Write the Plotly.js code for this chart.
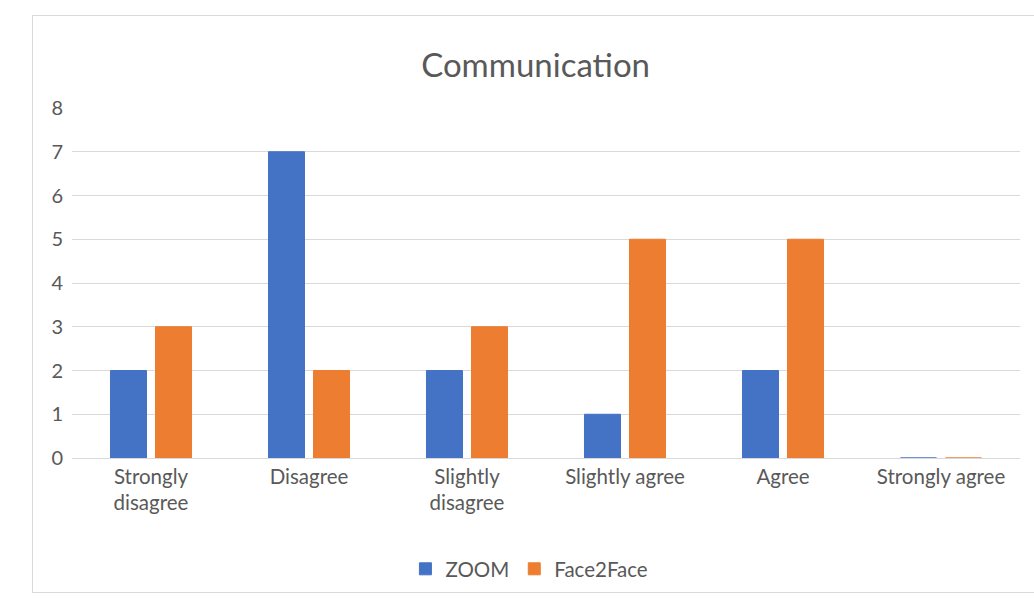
<!DOCTYPE html>
<html>
<head>
<meta charset="utf-8">
<script src="https://cdn.plot.ly/plotly-3.0.1.min.js"></script>
<style>
  html, body { margin: 0; padding: 0; background: #fff; }
  #wrap { position: relative; width: 1034px; height: 611px; }
  #chart { width: 1034px; height: 611px; }
  #frame { position: absolute; left: 32px; top: 15px; width: 1020px; height: 576px;
           border: 1px solid #d9d9d9; pointer-events: none; }
</style>
</head>
<body>
<div id="wrap">
  <div id="chart"></div>
  <div id="frame"></div>
</div>
<script>
const categories = ["Strongly<br>disagree", "Disagree", "Slightly<br>disagree", "Slightly agree", "Agree", "Strongly agree"];
const zoomValues = [2, 7, 2, 1, 2, 0];
const face2faceValues = [3, 2, 3, 5, 5, 0];
const seriesNames = ["ZOOM", "Face2Face"];
const yTicks = [0, 1, 2, 3, 4, 5, 6, 7, 8];

const FONT = "Lato, 'Open Sans', 'Liberation Sans', sans-serif";
const GREY = "#595959";

const traces = [
  { type: "bar", name: seriesNames[0], x: categories, y: zoomValues,
    marker: { color: "#4472C4", line: { color: "#4472C4", width: 1 } } },
  { type: "bar", name: seriesNames[1], x: categories, y: face2faceValues,
    marker: { color: "#ED7D31", line: { color: "#ED7D31", width: 1 } } }
];

const layout = {
  width: 1034, height: 611,
  margin: { l: 72, r: 14, t: 108, b: 153 },
  paper_bgcolor: "#ffffff", plot_bgcolor: "#ffffff",
  font: { family: FONT, color: GREY, size: 20 },
  title: { text: "Communication", font: { family: FONT, size: 33, color: GREY },
           xref: "container", x: 0.518, xanchor: "center",
           yref: "container", y: 1 - 65 / 611, yanchor: "middle" },
  barmode: "group", bargap: 0.43, bargroupgap: 0.2,
  xaxis: { type: "category", tickfont: { size: 20.5, color: GREY }, showgrid: false,
           showline: true, linecolor: "#d9d9d9", linewidth: 1, ticks: "", fixedrange: true },
  yaxis: { range: [0, 8], tickvals: yTicks, tickfont: { size: 20, color: GREY },
           ticklabelstandoff: 8,
           showgrid: true, gridcolor: "#d9d9d9", gridwidth: 1, zeroline: true, zerolinecolor: "#d9d9d9",
           showline: false, ticks: "", ticklen: 0, fixedrange: true },
  showlegend: true,
  legend: { orientation: "h", xref: "container", x: 0.512, xanchor: "center",
            yref: "container", y: 1 - 569 / 611, yanchor: "middle",
            font: { size: 20.5, color: GREY }, itemwidth: 30, traceorder: "normal" }
};

Plotly.newPlot("chart", traces, layout, { displayModeBar: false, staticPlot: true });
</script>
</body>
</html>
